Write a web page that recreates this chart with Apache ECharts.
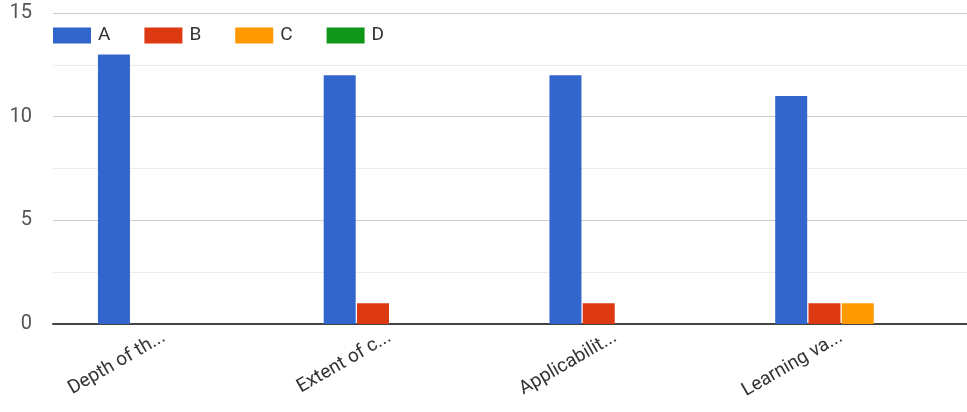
<!DOCTYPE html>
<html>
<head>
<meta charset="utf-8">
<script src="https://cdn.jsdelivr.net/npm/echarts@6/dist/echarts.min.js"></script>
<style>html,body{margin:0;padding:0;background:#fff}#c{width:967px;height:412px}</style>
</head>
<body>
<div id="c"></div>
<script>
var categories = ['Depth of th...', 'Extent of c...', 'Applicabilit...', 'Learning va...'];
var seriesNames = ['A', 'B', 'C', 'D'];
var valuesA = [13, 12, 12, 11];
var valuesB = [0, 1, 1, 1];
var valuesC = [0, 0, 0, 1];
var valuesD = [0, 0, 0, 0];
var yTicks = [0, 5, 10, 15];

var colors = ['#3366cc', '#dc3912', '#ff9900', '#109618'];
var allValues = [valuesA, valuesB, valuesC, valuesD];
var font = 'Roboto, "Liberation Sans", sans-serif';

var chart = echarts.init(document.getElementById('c'));
chart.setOption({
  animation: false,
  color: colors,
  legend: {
    left: 48, top: 21, padding: 5,
    itemWidth: 38, itemHeight: 16, itemGap: 34,
    icon: 'rect',
    textStyle: { fontFamily: font, fontSize: 19, color: '#333', width: 17, padding: [0,0,0,2] },
    data: seriesNames
  },
  grid: [
    { left: 51, right: 13, top: 13, bottom: 88 },
    { left: 53, right: 0, top: 13, bottom: 88 }
  ],
  xAxis: [
    {
      type: 'category', gridIndex: 0, data: categories,
      axisLine: { show: false },
      axisTick: { show: false },
      axisLabel: { rotate: 30, margin: 12, fontFamily: font, fontSize: 19, color: '#333', interval: 0 }
    },
    {
      type: 'category', gridIndex: 1, data: categories,
      axisLine: { show: true, lineStyle: { color: '#444', width: 2 } },
      axisTick: { show: false },
      axisLabel: { show: false }
    }
  ],
  yAxis: [
    {
      type: 'value', gridIndex: 0, min: yTicks[0], max: yTicks[yTicks.length - 1], interval: 5,
      axisLine: { show: false }, axisTick: { show: false },
      splitLine: { show: false },
      axisLabel: { margin: 19, fontFamily: font, fontSize: 20, color: '#555' }
    },
    {
      type: 'value', gridIndex: 1, min: yTicks[0], max: yTicks[yTicks.length - 1], interval: 5,
      axisLine: { show: false }, axisTick: { show: false },
      axisLabel: { show: false },
      splitLine: { show: true, lineStyle: { color: '#cccccc', width: 1 } },
      minorTick: { show: false, splitNumber: 2 },
      minorSplitLine: { show: true, lineStyle: { color: '#ececec', width: 1 } }
    }
  ],
  series: seriesNames.map(function (n, i) {
    return {
      name: n, type: 'bar', xAxisIndex: 0, yAxisIndex: 0,
      data: allValues[i],
      barWidth: 32, barGap: '4%',
      z: 3
    };
  })
});
</script>
</body>
</html>
